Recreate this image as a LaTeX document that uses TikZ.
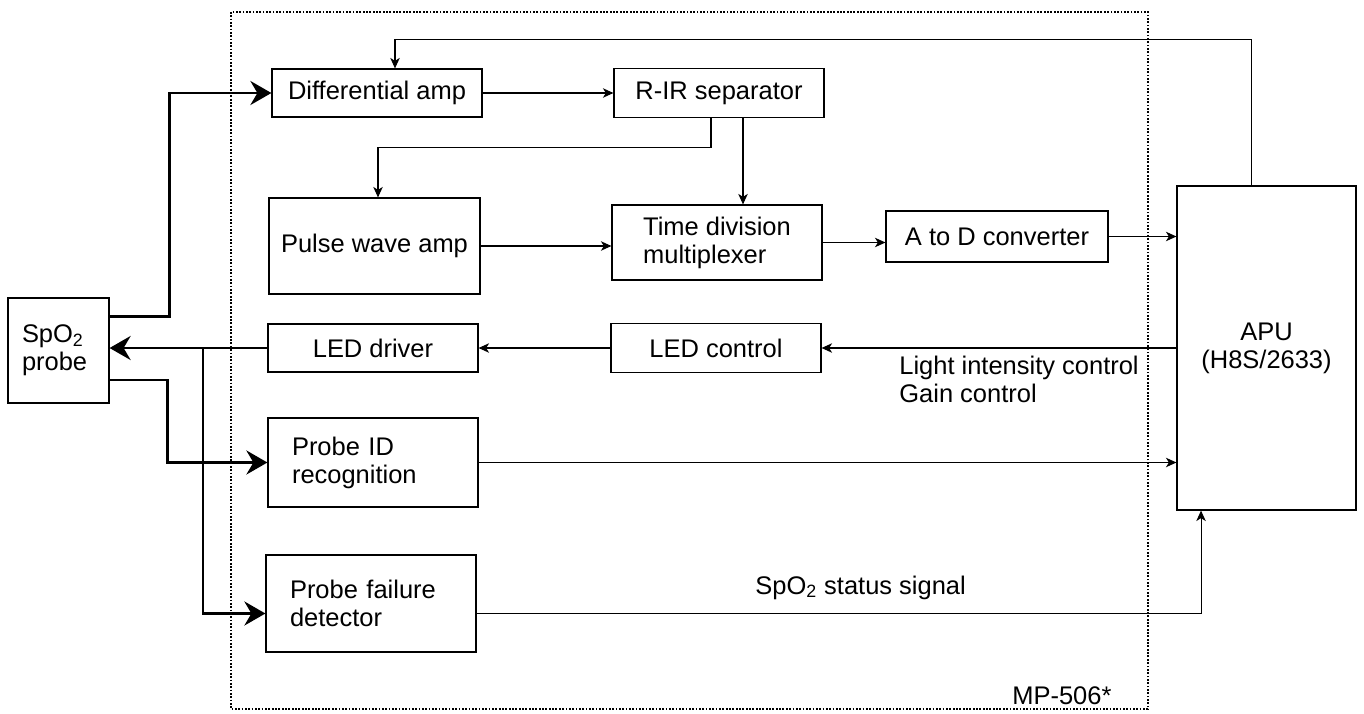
\documentclass[tikz,border=0pt]{standalone}
\usepackage{fontspec}
\setmainfont{Liberation Sans}
\usepackage{tikz}
\usetikzlibrary{arrows.meta}

\begin{document}
\begin{tikzpicture}[
		x=0.02cm, y=-0.02cm,
		every node/.style={
			font=\fontsize{14.5}{16}\selectfont
		},
		block/.style={
			draw,
			line width=0.7pt,
			inner sep=0pt,
			align=center
		},
		leftblock/.style={
			block,
			align=left,
			inner xsep=0.48cm
		},
		sig/.style={
			line width=0.6pt,
			-{Stealth[length=0.21cm,width=0.19cm,inset=0.06cm]}
		},
		probesig/.style={
			line width=1.7pt,
			-{Stealth[length=0.42cm,width=0.48cm,inset=0.14cm]}
		}
		]
		
		\useasboundingbox (0,0) rectangle (1364,713);
		
		% board outline
		\draw[line width=1.5pt, dash pattern=on 1pt off 0.9pt] (231,12) rectangle (1148,709);
		
		\node[block, minimum width=4.2cm, minimum height=0.96cm] (diffamp) at (377,93) {Differential amp};
		\node[block, minimum width=4.2cm, minimum height=0.98cm] (rir) at (719,93) {R-IR separator};
		\node[block, minimum width=4.22cm, minimum height=1.92cm] (pulseamp) at (374.5,246) {Pulse wave amp};
		\node[block, align=left, minimum width=4.2cm, minimum height=1.5cm] (tdm) at (717,242.5) {Time division\\multiplexer};
		\node[block, minimum width=4.44cm, minimum height=1.02cm] (atod) at (997,236.5) {A to D converter};
		\node[block, minimum width=3.58cm, minimum height=6.48cm] (apu) at (1266.5,348) {APU\\(H8S/2633)};
		\node[block, minimum width=4.2cm, minimum height=0.98cm] (ledctl) at (716,348) {LED control};
		\node[block, minimum width=4.2cm, minimum height=0.96cm] (leddrv) at (373,348) {LED driver};
		\node[leftblock, text width=3.24cm, minimum height=1.78cm] (probeid) at (373,462.5) {Probe ID\\recognition};
		\node[leftblock, text width=3.24cm, minimum height=1.94cm] (failure) at (371,603.5) {Probe failure\\detector};
		\node[leftblock, inner xsep=0.28cm, text width=1.46cm, minimum height=2.1cm] (probe) at (58.5,350.5) {SpO\textsubscript{2}\\probe};
		
		\node[anchor=north west, inner sep=0pt, align=left] (ctltext) at (899,356) {Light intensity control\\Gain control};
		\node[anchor=base west, inner sep=0pt] (status) at (755,594) {SpO\textsubscript{2} status signal};
		\node[anchor=base west, inner sep=0pt] (board) at (1012,704) {MP-506*};
		
		% probe cable
		\coordinate (split) at (203,348);
		\draw[probesig] ([yshift=0.69cm]probe.east) -- ++(60,0) |- (diffamp.west);
		\draw[probesig] (leddrv.west) -- (leddrv.west -| probe.east);
		\draw[probesig] (split) |- ([yshift=-0.2cm]failure.west);
		\draw[probesig] ([yshift=-0.59cm]probe.east) -- ++(58,0) |- (probeid.west);
		
		\draw[sig] (diffamp) -- (rir);
		\draw[sig] ([xshift=-0.16cm]rir.south) -- ++(0,29) -| ([xshift=0.07cm]pulseamp.north);
		\draw[sig] ([xshift=0.48cm]rir.south) -- ([xshift=0.48cm]rir.south |- tdm.north);
		\draw[sig] (pulseamp.east) -- (pulseamp.east -| tdm.west);
		\draw[sig] (tdm.east) -- (tdm.east -| atod.west);
		\draw[sig] (atod.east) -- (atod.east -| apu.west);
		\draw[sig] (apu.west) -- (ledctl.east);
		\draw[sig] (ledctl) -- (leddrv);
		\draw[sig] (probeid.east) -- (probeid.east -| apu.west);
		\draw[sig] ([yshift=-0.2cm]failure.east) -| ([xshift=-1.31cm]apu.south);
		\draw[sig] ([xshift=-0.31cm]apu.north) -- ++(0,-146) -| ([xshift=0.36cm]diffamp.north);
		
	\end{tikzpicture}
\end{document}
